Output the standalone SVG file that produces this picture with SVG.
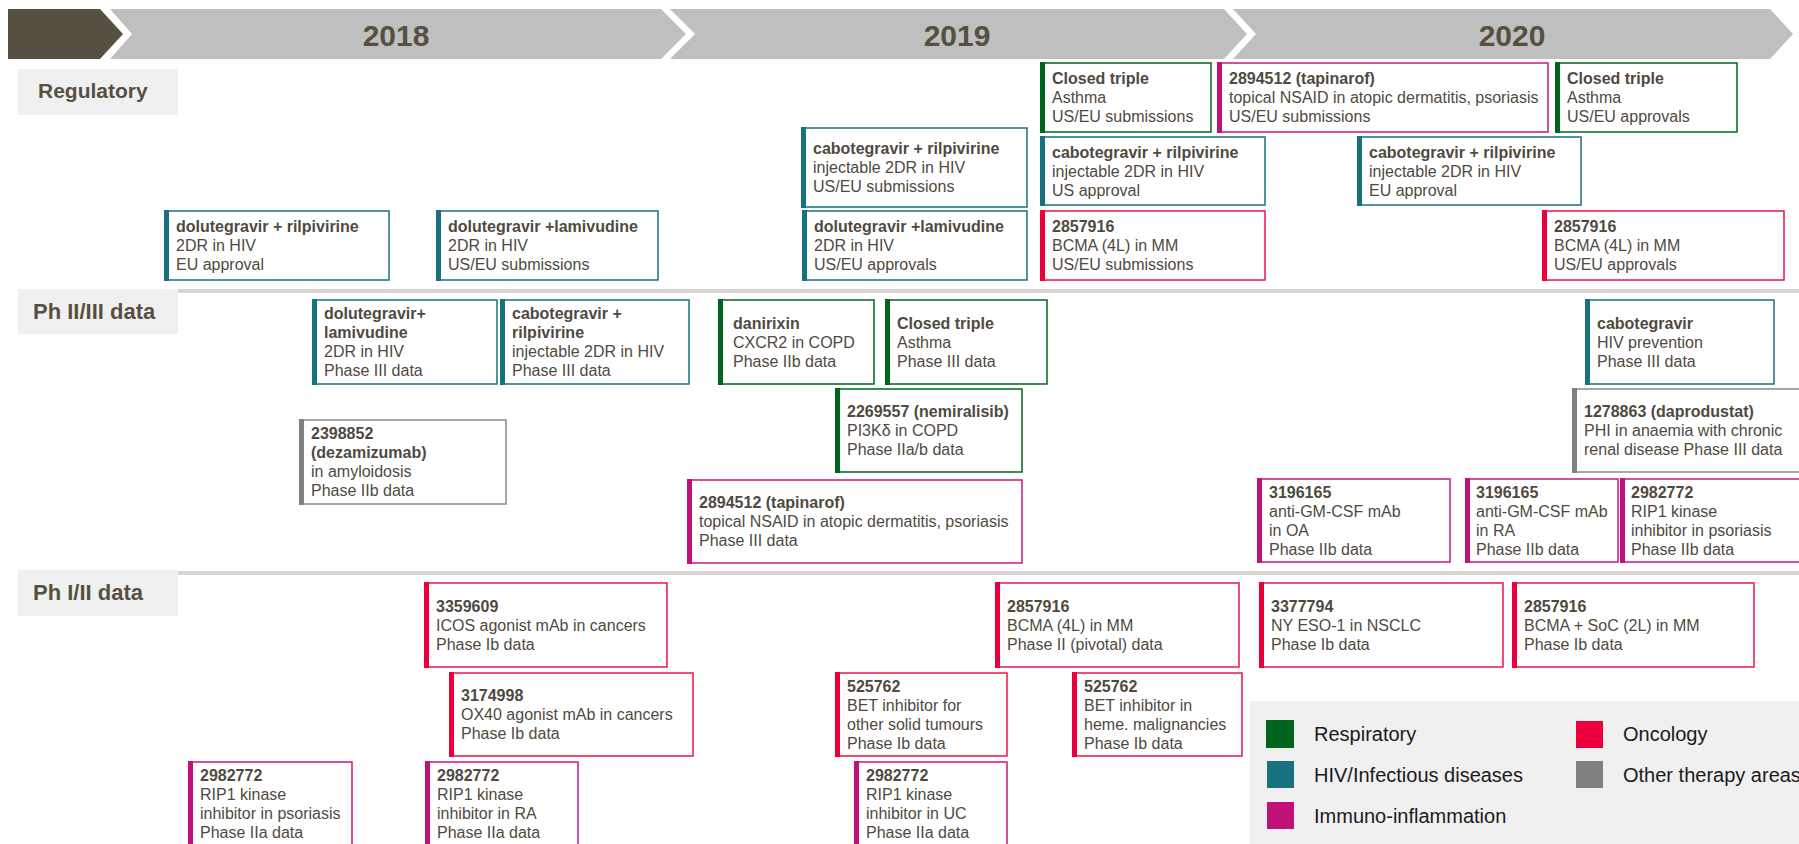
<svg xmlns="http://www.w3.org/2000/svg" width="1799" height="844" viewBox="0 0 1799 844">
<style>
.hdr{fill:#BFBFBF}
.yr{font-family:"Liberation Sans",Arial,sans-serif;font-size:30px;font-weight:bold;fill:#575042;text-anchor:middle}
.lbl{fill:#F0F0F0}
.lt{font-family:"Liberation Sans",Arial,sans-serif;font-size:21px;font-weight:bold;fill:#575042}
.lt2{font-family:"Liberation Sans",Arial,sans-serif;font-size:22px;font-weight:bold;fill:#575042}
.sep{fill:#D9D6D2}
.bx{fill:#fff;stroke-width:1.5}
.t{font-family:"Liberation Sans",Arial,sans-serif;font-size:16px;fill:#4F4A40}
.b{font-weight:bold}
.r{stroke:#00661E}.rf{fill:#00661E}
.h{stroke:#17717E}.hf{fill:#17717E}
.i{stroke:#C8197F}.if{fill:#C0117A}
.o{stroke:#EB1548}.of{fill:#EB003C}
.g{stroke:#8A8A8A}.gf{fill:#808080}
.lg{font-family:"Liberation Sans",Arial,sans-serif;font-size:20px;fill:#1A1A1A}
</style>

<g id="header">
<polygon points="8,9 100,9 123,34 100,59 8,59" fill="#565042"/>
<polygon class="hdr" points="110,9 661,9 686,34 661,59 110,59 132,34"/>
<polygon class="hdr" points="670,9 1224,9 1247,34 1224,59 670,59 695,34"/>
<polygon class="hdr" points="1233,9 1770,9 1793,34 1770,59 1233,59 1256,34"/>
<text class="yr" x="396" y="45.5">2018</text>
<text class="yr" x="957" y="45.5">2019</text>
<text class="yr" x="1512" y="45.5">2020</text>
</g>

<g id="rows">
<rect class="lbl" x="18" y="69" width="160" height="46"/>
<text class="lt" x="38" y="98">Regulatory</text>
<rect class="lbl" x="18" y="289" width="160" height="45"/>
<rect class="sep" x="178" y="289" width="1621" height="4"/>
<text class="lt2" x="33" y="319">Ph II/III data</text>
<rect class="lbl" x="18" y="570" width="160" height="46"/>
<rect class="sep" x="178" y="571" width="1621" height="4"/>
<text class="lt2" x="33" y="600">Ph I/II data</text>
</g>

<g id="connectors"></g>

<g id="n1"><rect class="bx r" x="1041" y="63" width="170" height="69"/><rect class="rf" x="1040" y="62" width="5" height="71"/>
<text class="t"><tspan class="b" x="1052" y="84">Closed triple</tspan><tspan x="1052" y="103">Asthma</tspan><tspan x="1052" y="122">US/EU submissions</tspan></text></g>
<g id="n2"><rect class="bx i" x="1218" y="63" width="330" height="69"/><rect class="if" x="1217" y="62" width="5" height="71"/>
<text class="t"><tspan class="b" x="1229" y="84">2894512 (tapinarof)</tspan><tspan x="1229" y="103">topical NSAID in atopic dermatitis, psoriasis</tspan><tspan x="1229" y="122">US/EU submissions</tspan></text></g>
<g id="n3"><rect class="bx r" x="1556" y="63" width="181" height="69"/><rect class="rf" x="1555" y="62" width="5" height="71"/>
<text class="t"><tspan class="b" x="1567" y="84">Closed triple</tspan><tspan x="1567" y="103">Asthma</tspan><tspan x="1567" y="122">US/EU approvals</tspan></text></g>
<g id="n4"><rect class="bx h" x="802" y="128" width="225" height="79"/><rect class="hf" x="801" y="127" width="5" height="81"/>
<text class="t"><tspan class="b" x="813" y="154">cabotegravir + rilpivirine</tspan><tspan x="813" y="173">injectable 2DR in HIV</tspan><tspan x="813" y="192">US/EU submissions</tspan></text></g>
<g id="n5"><rect class="bx h" x="1041" y="137" width="224" height="68"/><rect class="hf" x="1040" y="136" width="5" height="70"/>
<text class="t"><tspan class="b" x="1052" y="157.5">cabotegravir + rilpivirine</tspan><tspan x="1052" y="176.5">injectable 2DR in HIV</tspan><tspan x="1052" y="195.5">US approval</tspan></text></g>
<g id="n6"><rect class="bx h" x="1358" y="137" width="223" height="68"/><rect class="hf" x="1357" y="136" width="5" height="70"/>
<text class="t"><tspan class="b" x="1369" y="157.5">cabotegravir + rilpivirine</tspan><tspan x="1369" y="176.5">injectable 2DR in HIV</tspan><tspan x="1369" y="195.5">EU approval</tspan></text></g>
<g id="n7"><rect class="bx h" x="165" y="211" width="224" height="69"/><rect class="hf" x="164" y="210" width="5" height="71"/>
<text class="t"><tspan class="b" x="176" y="232">dolutegravir + rilpivirine</tspan><tspan x="176" y="251">2DR in HIV</tspan><tspan x="176" y="270">EU approval</tspan></text></g>
<g id="n8"><rect class="bx h" x="437" y="211" width="221" height="69"/><rect class="hf" x="436" y="210" width="5" height="71"/>
<text class="t"><tspan class="b" x="448" y="232">dolutegravir +lamivudine</tspan><tspan x="448" y="251">2DR in HIV</tspan><tspan x="448" y="270">US/EU submissions</tspan></text></g>
<g id="n9"><rect class="bx h" x="803" y="211" width="224" height="69"/><rect class="hf" x="802" y="210" width="5" height="71"/>
<text class="t"><tspan class="b" x="814" y="232">dolutegravir +lamivudine</tspan><tspan x="814" y="251">2DR in HIV</tspan><tspan x="814" y="270">US/EU approvals</tspan></text></g>
<g id="n10"><rect class="bx o" x="1041" y="211" width="224" height="69"/><rect class="of" x="1040" y="210" width="5" height="71"/>
<text class="t"><tspan class="b" x="1052" y="232">2857916</tspan><tspan x="1052" y="251">BCMA (4L) in MM</tspan><tspan x="1052" y="270">US/EU submissions</tspan></text></g>
<g id="n11"><rect class="bx o" x="1543" y="211" width="241" height="69"/><rect class="of" x="1542" y="210" width="5" height="71"/>
<text class="t"><tspan class="b" x="1554" y="232">2857916</tspan><tspan x="1554" y="251">BCMA (4L) in MM</tspan><tspan x="1554" y="270">US/EU approvals</tspan></text></g>

<g id="n12"><rect class="bx h" x="313" y="300" width="184" height="84"/><rect class="hf" x="312" y="299" width="5" height="86"/>
<text class="t"><tspan class="b" x="324" y="319">dolutegravir+</tspan><tspan class="b" x="324" y="338">lamivudine</tspan><tspan x="324" y="357">2DR in HIV</tspan><tspan x="324" y="376">Phase III data</tspan></text></g>
<g id="n13"><rect class="bx h" x="501" y="300" width="188" height="84"/><rect class="hf" x="500" y="299" width="5" height="86"/>
<text class="t"><tspan class="b" x="512" y="319">cabotegravir +</tspan><tspan class="b" x="512" y="338">rilpivirine</tspan><tspan x="512" y="357">injectable 2DR in HIV</tspan><tspan x="512" y="376">Phase III data</tspan></text></g>
<g id="n14"><rect class="bx r" x="719" y="300" width="155" height="84"/><rect class="rf" x="718" y="299" width="5" height="86"/>
<text class="t"><tspan class="b" x="733" y="328.5">danirixin</tspan><tspan x="733" y="347.5">CXCR2 in COPD</tspan><tspan x="733" y="366.5">Phase IIb data</tspan></text></g>
<g id="n15"><rect class="bx r" x="886" y="300" width="161" height="84"/><rect class="rf" x="885" y="299" width="5" height="86"/>
<text class="t"><tspan class="b" x="897" y="328.5">Closed triple</tspan><tspan x="897" y="347.5">Asthma</tspan><tspan x="897" y="366.5">Phase III data</tspan></text></g>
<g id="n16"><rect class="bx h" x="1586" y="300" width="188" height="84"/><rect class="hf" x="1585" y="299" width="5" height="86"/>
<text class="t"><tspan class="b" x="1597" y="328.5">cabotegravir</tspan><tspan x="1597" y="347.5">HIV prevention</tspan><tspan x="1597" y="366.5">Phase III data</tspan></text></g>
<g id="n17"><rect class="bx g" x="300" y="420" width="206" height="84"/><rect class="gf" x="299" y="419" width="5" height="86"/>
<text class="t"><tspan class="b" x="311" y="439">2398852</tspan><tspan class="b" x="311" y="458">(dezamizumab)</tspan><tspan x="311" y="477">in amyloidosis</tspan><tspan x="311" y="496">Phase IIb data</tspan></text></g>
<g id="n18"><rect class="bx r" x="836" y="389" width="186" height="83"/><rect class="rf" x="835" y="388" width="5" height="85"/>
<text class="t"><tspan class="b" x="847" y="417">2269557 (nemiralisib)</tspan><tspan x="847" y="436">PI3Kδ in COPD</tspan><tspan x="847" y="455">Phase IIa/b data</tspan></text></g>
<g id="n19"><rect class="bx g" x="1573" y="389" width="240" height="83"/><rect class="gf" x="1572" y="388" width="5" height="85"/>
<text class="t"><tspan class="b" x="1584" y="417">1278863 (daprodustat)</tspan><tspan x="1584" y="436">PHI in anaemia with chronic</tspan><tspan x="1584" y="455">renal disease Phase III data</tspan></text></g>
<g id="n20"><rect class="bx i" x="688" y="480" width="334" height="83"/><rect class="if" x="687" y="479" width="5" height="85"/>
<text class="t"><tspan class="b" x="699" y="508">2894512 (tapinarof)</tspan><tspan x="699" y="527">topical NSAID in atopic dermatitis, psoriasis</tspan><tspan x="699" y="546">Phase III data</tspan></text></g>
<g id="n21"><rect class="bx i" x="1258" y="479" width="192" height="83"/><rect class="if" x="1257" y="478" width="5" height="85"/>
<text class="t"><tspan class="b" x="1269" y="497.5">3196165</tspan><tspan x="1269" y="516.5">anti-GM-CSF mAb</tspan><tspan x="1269" y="535.5">in OA</tspan><tspan x="1269" y="554.5">Phase IIb data</tspan></text></g>
<g id="n22"><rect class="bx i" x="1466" y="479" width="152" height="83"/><rect class="if" x="1465" y="478" width="5" height="85"/>
<text class="t"><tspan class="b" x="1476" y="497.5">3196165</tspan><tspan x="1476" y="516.5">anti-GM-CSF mAb</tspan><tspan x="1476" y="535.5">in RA</tspan><tspan x="1476" y="554.5">Phase IIb data</tspan></text></g>
<g id="n23"><rect class="bx i" x="1621" y="479" width="200" height="83"/><rect class="if" x="1620" y="478" width="5" height="85"/>
<text class="t"><tspan class="b" x="1631" y="497.5">2982772</tspan><tspan x="1631" y="516.5">RIP1 kinase</tspan><tspan x="1631" y="535.5">inhibitor in psoriasis</tspan><tspan x="1631" y="554.5">Phase IIb data</tspan></text></g>

<g id="n24"><rect class="bx o" x="425" y="583" width="242" height="84"/><rect class="of" x="424" y="582" width="5" height="86"/>
<text class="t"><tspan class="b" x="436" y="611.5">3359609</tspan><tspan x="436" y="630.5">ICOS agonist mAb in cancers</tspan><tspan x="436" y="649.5">Phase Ib data</tspan></text></g>
<g id="n25"><rect class="bx o" x="450" y="673" width="243" height="83"/><rect class="of" x="449" y="672" width="5" height="85"/>
<text class="t"><tspan class="b" x="461" y="701">3174998</tspan><tspan x="461" y="720">OX40 agonist mAb in cancers</tspan><tspan x="461" y="739">Phase Ib data</tspan></text></g>
<g id="n26"><rect class="bx o" x="996" y="583" width="243" height="84"/><rect class="of" x="995" y="582" width="5" height="86"/>
<text class="t"><tspan class="b" x="1007" y="611.5">2857916</tspan><tspan x="1007" y="630.5">BCMA (4L) in MM</tspan><tspan x="1007" y="649.5">Phase II (pivotal) data</tspan></text></g>
<g id="n27"><rect class="bx o" x="1260" y="583" width="243" height="84"/><rect class="of" x="1259" y="582" width="5" height="86"/>
<text class="t"><tspan class="b" x="1271" y="611.5">3377794</tspan><tspan x="1271" y="630.5">NY ESO-1 in NSCLC</tspan><tspan x="1271" y="649.5">Phase Ib data</tspan></text></g>
<g id="n28"><rect class="bx o" x="1513" y="583" width="241" height="84"/><rect class="of" x="1512" y="582" width="5" height="86"/>
<text class="t"><tspan class="b" x="1524" y="611.5">2857916</tspan><tspan x="1524" y="630.5">BCMA + SoC (2L) in MM</tspan><tspan x="1524" y="649.5">Phase Ib data</tspan></text></g>
<g id="n29"><rect class="bx o" x="836" y="673" width="171" height="83"/><rect class="of" x="835" y="672" width="5" height="85"/>
<text class="t"><tspan class="b" x="847" y="691.5">525762</tspan><tspan x="847" y="710.5">BET inhibitor for</tspan><tspan x="847" y="729.5">other solid tumours</tspan><tspan x="847" y="748.5">Phase Ib data</tspan></text></g>
<g id="n30"><rect class="bx o" x="1073" y="673" width="169" height="83"/><rect class="of" x="1072" y="672" width="5" height="85"/>
<text class="t"><tspan class="b" x="1084" y="691.5">525762</tspan><tspan x="1084" y="710.5">BET inhibitor in</tspan><tspan x="1084" y="729.5">heme. malignancies</tspan><tspan x="1084" y="748.5">Phase Ib data</tspan></text></g>
<g id="n31"><rect class="bx i" x="189" y="762" width="163" height="86"/><rect class="if" x="188" y="761" width="5" height="88"/>
<text class="t"><tspan class="b" x="200" y="781">2982772</tspan><tspan x="200" y="800">RIP1 kinase</tspan><tspan x="200" y="819">inhibitor in psoriasis</tspan><tspan x="200" y="838">Phase IIa data</tspan></text></g>
<g id="n32"><rect class="bx i" x="426" y="762" width="152" height="86"/><rect class="if" x="425" y="761" width="5" height="88"/>
<text class="t"><tspan class="b" x="437" y="781">2982772</tspan><tspan x="437" y="800">RIP1 kinase</tspan><tspan x="437" y="819">inhibitor in RA</tspan><tspan x="437" y="838">Phase IIa data</tspan></text></g>
<g id="n33"><rect class="bx i" x="855" y="762" width="152" height="86"/><rect class="if" x="854" y="761" width="5" height="88"/>
<text class="t"><tspan class="b" x="866" y="781">2982772</tspan><tspan x="866" y="800">RIP1 kinase</tspan><tspan x="866" y="819">inhibitor in UC</tspan><tspan x="866" y="838">Phase IIa data</tspan></text></g>

<g id="legend">
<rect x="1250" y="701" width="549" height="143" fill="#F0F0F0"/>
<rect class="rf" x="1266" y="720" width="28" height="28"/>
<text class="lg" x="1314" y="741">Respiratory</text>
<rect class="hf" x="1267" y="761" width="27" height="27"/>
<text class="lg" x="1314" y="782">HIV/Infectious diseases</text>
<rect class="if" x="1267" y="802" width="27" height="27"/>
<text class="lg" x="1314" y="822.5">Immuno-inflammation</text>
<rect class="of" x="1576" y="721" width="27" height="27"/>
<text class="lg" x="1623" y="741">Oncology</text>
<rect class="gf" x="1576" y="761" width="27" height="27"/>
<text class="lg" x="1623" y="782">Other therapy areas</text>
</g>
</svg>
